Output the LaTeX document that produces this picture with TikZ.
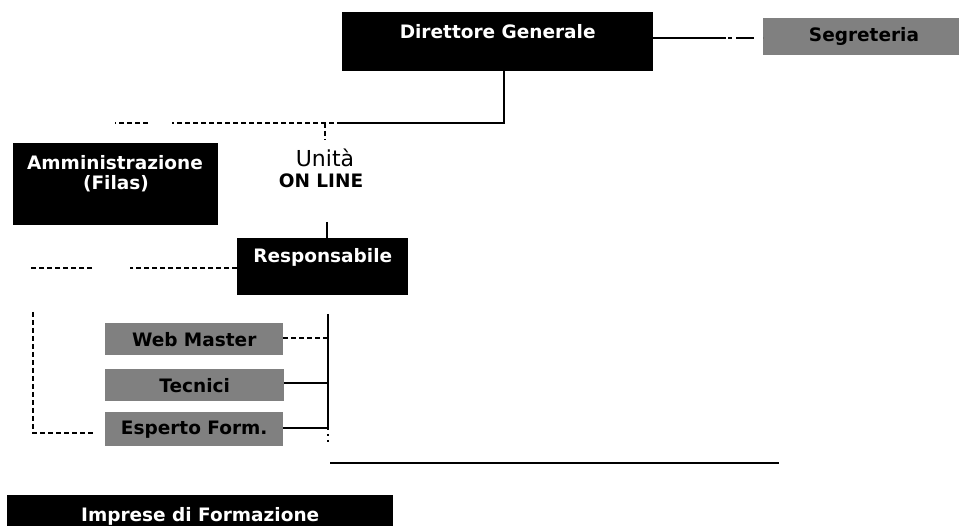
\documentclass[tikz,border=0pt]{standalone}
\usepackage{fontspec}
\setmainfont{DejaVu Sans}
\begin{document}
\begin{tikzpicture}[x=1pt,y=-1pt,
  lbl/.style={font=\bfseries\fontsize{18.5}{20}\selectfont},
  blackbox/.style={lbl, fill=black, text=white, inner sep=0pt, anchor=north west},
  greybox/.style={lbl, fill=black!50, text=black, inner sep=0pt, anchor=north west},
  solidlink/.style={line width=1.6pt},
  dashlink/.style={line width=1.6pt, dash pattern=on 5pt off 3pt},
]
\useasboundingbox[fill=white] (0,0) rectangle (959,526);

% top: general director and secretariat
\node[blackbox, minimum width=311pt, text height=26pt, text depth=33pt] (dg) at (342,12) {Direttore Generale};
\node[greybox, minimum width=200pt, minimum height=37pt] (seg) at (763,18) {};
\node[lbl, anchor=base] (segtxt) at (864,42) {Segreteria};

\coordinate (sA) at (722,38);
\draw[solidlink] (dg.east |- sA) -- (sA);
\draw[line width=1.6pt, dash pattern=on 4pt off 2pt on 4pt off 4pt on 18pt off 9pt] (sA) -- (seg.west |- sA);

% branch below the director
\coordinate (j1) at (504,123);
\coordinate (j2) at (342,123);
\coordinate (j3) at (172,123);
\coordinate (j4) at (148,123);
\coordinate (j5) at (115,123);
\coordinate (j6) at (325,123);
\coordinate (j7) at (325,140);
\draw[solidlink] (dg.south -| j1) -- (j1) -- (j2);
\draw[dashlink] (j2) -- (j3);
\draw[dashlink] (j4) -- (j5);
\draw[dashlink] (j6) -- (j7);

% administration
\node[blackbox, minimum width=205pt, minimum height=82pt] (amm) at (13,143) {};
\node[lbl, text=white, anchor=base] (ammtxt1) at (115,170) {Amministrazione};
\node[lbl, text=white, anchor=base] (ammtxt2) at (116,190) {(Filas)};

% on-line unit
\node[font=\fontsize{22}{24}\selectfont, anchor=base] (unit) at (325,167) {Unità};
\node[lbl, anchor=base] (unitol) at (321,188) {ON LINE};

\node[blackbox, minimum width=171pt, text height=24pt, text depth=33pt] (resp) at (237,238) {Responsabile};
\coordinate (u1) at (327,222);
\draw[solidlink] (u1) -- (resp.north -| u1);

\coordinate (r1) at (130,268);
\coordinate (r2) at (92,268);
\coordinate (r3) at (30,268);
\draw[dashlink] (resp.west |- r1) -- (r1);
\draw[dashlink] (r2) -- (r3);

% staff of the unit
\node[greybox, minimum width=178pt, minimum height=32pt] (web) at (105,323) {Web Master};
\node[greybox, minimum width=179pt, minimum height=32pt] (tec) at (105,369) {Tecnici};
\node[greybox, minimum width=178pt, minimum height=34pt] (esp) at (105,412) {Esperto Form.};

\coordinate (b1) at (328,314);
\coordinate (b2) at (328,428);
\coordinate (b3) at (328,443);
\draw[solidlink] (b1) -- (b2);
\draw[line width=1.6pt, dash pattern=on 2pt off 4pt] (b2) -- (b3);
\draw[dashlink] (web.east |- 0,338) -- (b1 |- 0,338);
\draw[solidlink] (tec.east |- 0,383) -- (b1 |- 0,383);
\draw[solidlink] (esp.east |- b2) -- (b2);

\coordinate (l1) at (33,312);
\coordinate (l2) at (33,433);
\coordinate (l3) at (93,433);
\draw[dashlink] (l1) -- (l2) -- (l3);

% bottom
\coordinate (h1) at (330,463);
\coordinate (h2) at (779,463);
\draw[solidlink] (h1) -- (h2);

\node[blackbox, minimum width=386pt, text height=26pt, text depth=8pt] (imp) at (7,495) {Imprese di Formazione};
\end{tikzpicture}
\end{document}
